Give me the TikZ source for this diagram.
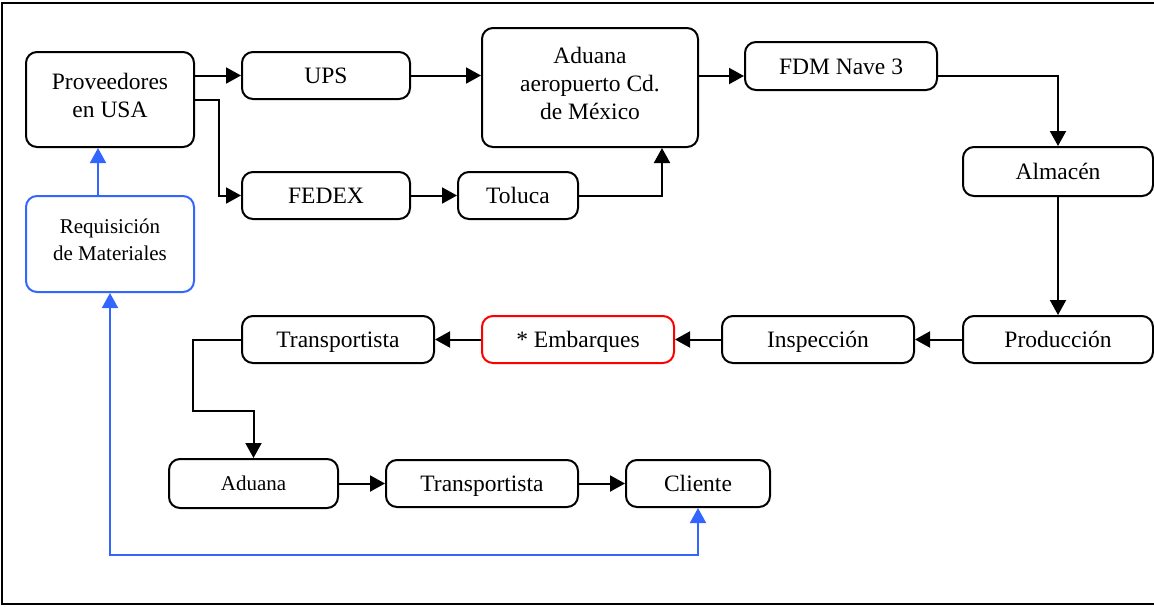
\documentclass[tikz,border=0pt]{standalone}
\usepackage{fontspec}
\setmainfont{Liberation Serif}
\usetikzlibrary{arrows.meta,calc}

\definecolor{reqblue}{RGB}{51,102,255}
\definecolor{embred}{RGB}{255,0,0}

\tikzset{
  box/.style={draw=black, line width=2pt, rounded corners=11pt, inner sep=0pt,
    align=center, font=\fontsize{23.5}{28}\selectfont},
  one/.style={box, text height=17pt, text depth=1pt},
  multi/.style={box, text depth=9pt},
  smallone/.style={one, text height=15pt, font=\fontsize{21}{27}\selectfont},
  smallmulti/.style={multi, font=\fontsize{21}{27}\selectfont},
  flow/.style={draw=black, line width=2pt, -{Triangle[length=15pt,width=16pt]}},
  feedback/.style={draw=reqblue, line width=2pt,
    {Triangle[length=15pt,width=16pt]}-{Triangle[length=15pt,width=16pt]}},
  upflow/.style={draw=reqblue, line width=2pt, -{Triangle[length=15pt,width=16pt]}},
  frame/.style={draw=black, line width=2.5pt}
}

\begin{document}
\begin{tikzpicture}[x=1pt,y=-1pt]
  \useasboundingbox (0,0) rectangle (1154,606);

  % outer frame (its right side runs off the page)
  \draw[frame] (1160,3) -- (2,3) -- (2,604) -- (1160,604);

  % import chain
  \node[multi, minimum width=168pt, minimum height=95pt] (prov) at (110,99.5) {Proveedores\\en USA};
  \node[one, minimum width=168pt, minimum height=47pt] (ups) at (326,75.5) {UPS};
  \node[one, minimum width=168pt, minimum height=47pt] (fedex) at (326,195.5) {FEDEX};
  \node[one, minimum width=120pt, minimum height=47pt] (toluca) at (518,195.5) {Toluca};
  \node[multi, minimum width=216pt, minimum height=119pt] (adair) at (590,87.5) {Aduana\\aeropuerto Cd.\\de México};
  \node[one, minimum width=192pt, minimum height=48pt] (fdm) at (841,66) {FDM Nave 3};
  \node[one, minimum width=190pt, minimum height=49pt] (alm) at (1058,171.5) {Almacén};
  \node[smallmulti, draw=reqblue, minimum width=168pt, minimum height=96pt] (req) at (110,244) {Requisición\\de Materiales};

  % plant and shipping
  \node[one, minimum width=190pt, minimum height=47pt] (prod) at (1058,339.5) {Producción};
  \node[one, minimum width=192pt, minimum height=47pt] (insp) at (818,339.5) {Inspección};
  \node[one, draw=embred, minimum width=192pt, minimum height=47pt] (emb) at (578,339.5) {* Embarques};
  \node[one, minimum width=192pt, minimum height=47pt] (trans1) at (338,339.5) {Transportista};

  % export chain
  \node[smallone, minimum width=169pt, minimum height=49pt] (adu2) at (253.5,483.5) {Aduana};
  \node[one, minimum width=192pt, minimum height=47pt] (trans2) at (482,483.5) {Transportista};
  \node[one, minimum width=144pt, minimum height=47pt] (cli) at (698,483.5) {Cliente};

  % connectors
  \coordinate (fdmin) at ([yshift=-10pt]fdm.west);
  \coordinate (fdmout) at ([yshift=-10pt]fdm.east);

  \draw[flow] (ups.west -| prov.east) -- (ups.west);
  \draw[flow] (prov.east) -- ++(24,0) |- (fedex.west);
  \draw[flow] (ups.east) -- (ups.east -| adair.west);
  \draw[flow] (fedex.east) -- (toluca.west);
  \draw[flow] (toluca.east) -| ($(adair.south)+(72,0)$);
  \draw[flow] (fdmin -| adair.east) -- (fdmin);
  \draw[flow] (fdmout) -| (alm.north);
  \draw[flow] (alm.south) -- (prod.north);
  \draw[flow] (prod.west) -- (insp.east);
  \draw[flow] (insp.west) -- (emb.east);
  \draw[flow] (emb.west) -- (trans1.east);
  \draw[flow] (trans1.west) -- ++(-48,0) -- ++(0,71) -| (adu2.north);
  \draw[flow] (adu2.east) -- (trans2.west);
  \draw[flow] (trans2.east) -- (cli.west);

  \draw[feedback] (req.south) |- ($(cli.south)+(0,47)$) -- (cli.south);
  \draw[upflow] ([xshift=-12pt]req.north) -- ([xshift=-12pt]prov.south);
\end{tikzpicture}
\end{document}
